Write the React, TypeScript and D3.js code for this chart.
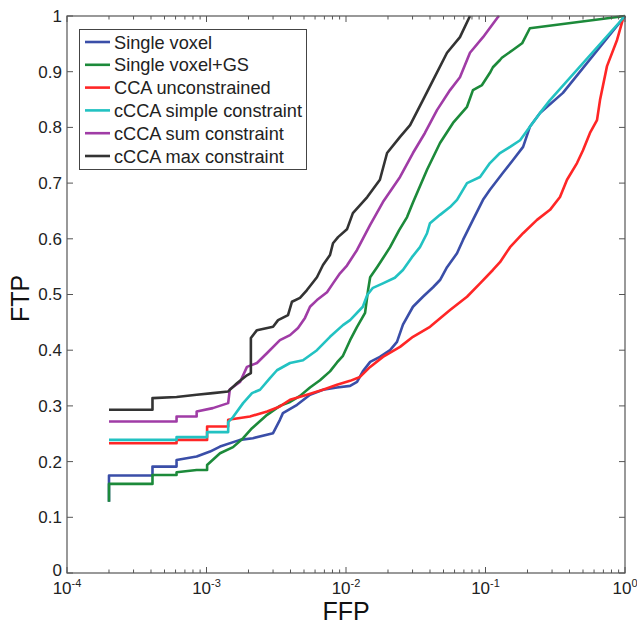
import React from "react";
import * as d3 from "d3";

type Pt = [number, number];

const seriesNames = [
  "Single voxel",
  "Single voxel+GS",
  "CCA unconstrained",
  "cCCA simple constraint",
  "cCCA sum constraint",
  "cCCA max constraint",
];
const seriesColors = ["#3a4ea8", "#1c8a3a", "#ff2626", "#22c2c2", "#a03ca6", "#333333"];

const singleVoxel: Pt[] = [
  [2e-4, 0.128], [2e-4, 0.175], [4.1e-4, 0.175], [4.1e-4, 0.191], [6.1e-4, 0.191], [6.1e-4, 0.203],
  [8.5e-4, 0.209], [1.06e-3, 0.218], [1.25e-3, 0.227], [1.74e-3, 0.239], [2.15e-3, 0.242],
  [3.0e-3, 0.251], [3.36e-3, 0.275], [3.53e-3, 0.287], [4.46e-3, 0.302], [5.52e-3, 0.32],
  [6.84e-3, 0.329], [8.62e-3, 0.333], [1.07e-2, 0.336], [1.2e-2, 0.343], [1.32e-2, 0.362],
  [1.49e-2, 0.379], [1.75e-2, 0.388], [2.07e-2, 0.4], [2.32e-2, 0.415], [2.56e-2, 0.446],
  [3.02e-2, 0.478], [3.56e-2, 0.496], [4.21e-2, 0.513], [4.72e-2, 0.526], [5.3e-2, 0.549],
  [6.25e-2, 0.574], [6.9e-2, 0.598], [8.13e-2, 0.634], [9.6e-2, 0.67], [0.1076, 0.688],
  [0.133, 0.718], [0.157, 0.741], [0.186, 0.765], [0.208, 0.801], [0.246, 0.826],
  [0.359, 0.862], [1, 1],
];

const singleVoxelGS: Pt[] = [
  [2e-4, 0.128], [2e-4, 0.16], [4.1e-4, 0.16], [4.1e-4, 0.176], [6.1e-4, 0.176], [6.1e-4, 0.181],
  [8.5e-4, 0.185], [1.01e-3, 0.185], [1.01e-3, 0.194], [1.25e-3, 0.215], [1.55e-3, 0.226],
  [1.83e-3, 0.242], [2.12e-3, 0.26], [2.72e-3, 0.284], [3.36e-3, 0.3], [3.97e-3, 0.307],
  [4.68e-3, 0.318], [5.52e-3, 0.333], [6.51e-3, 0.346], [7.68e-3, 0.362], [8.62e-3, 0.378],
  [9.51e-3, 0.39], [1.07e-2, 0.418], [1.2e-2, 0.442], [1.37e-2, 0.467], [1.44e-2, 0.508],
  [1.49e-2, 0.531], [1.67e-2, 0.549], [1.84e-2, 0.565], [2.07e-2, 0.585], [2.4e-2, 0.615],
  [2.74e-2, 0.639], [3.02e-2, 0.665], [3.81e-2, 0.724], [4.72e-2, 0.772], [5.85e-2, 0.808],
  [7.37e-2, 0.837], [8.13e-2, 0.867], [9.44e-2, 0.876], [0.1076, 0.898], [0.113, 0.908],
  [0.127, 0.921], [0.131, 0.925], [0.157, 0.939], [0.183, 0.951], [0.208, 0.978], [1, 1],
];

const ccaUnconstrained: Pt[] = [
  [2e-4, 0.233], [6.1e-4, 0.233], [6.1e-4, 0.239], [1.01e-3, 0.239], [1.01e-3, 0.263],
  [1.43e-3, 0.263], [1.43e-3, 0.275], [2.05e-3, 0.281], [2.72e-3, 0.29], [3.36e-3, 0.299],
  [3.97e-3, 0.311], [5.25e-3, 0.32], [6.84e-3, 0.329], [8.62e-3, 0.338], [1.07e-2, 0.345],
  [1.26e-2, 0.352], [1.49e-2, 0.37], [1.84e-2, 0.388], [2.44e-2, 0.406], [3.02e-2, 0.424],
  [4.0e-2, 0.442], [5.57e-2, 0.472], [7.37e-2, 0.496], [9.14e-2, 0.52], [0.113, 0.544],
  [0.127, 0.558], [0.15, 0.585], [0.186, 0.61], [0.234, 0.634], [0.29, 0.652], [0.342, 0.675],
  [0.384, 0.706], [0.453, 0.736], [0.5, 0.759], [0.561, 0.79], [0.63, 0.813], [0.662, 0.849],
  [0.743, 0.91], [0.877, 0.957], [0.968, 0.995], [1, 1],
];

const cccaSimple: Pt[] = [
  [2e-4, 0.239], [6.1e-4, 0.239], [6.1e-4, 0.244], [1.01e-3, 0.244], [1.01e-3, 0.253],
  [1.43e-3, 0.253], [1.43e-3, 0.271], [1.55e-3, 0.28], [1.83e-3, 0.305], [2.12e-3, 0.323],
  [2.42e-3, 0.329], [2.85e-3, 0.35], [3.2e-3, 0.364], [3.97e-3, 0.377], [4.92e-3, 0.382],
  [6.19e-3, 0.4], [7.68e-3, 0.424], [9.51e-3, 0.445], [1.07e-2, 0.454], [1.32e-2, 0.478],
  [1.42e-2, 0.499], [1.56e-2, 0.512], [1.84e-2, 0.52], [2.24e-2, 0.53], [2.56e-2, 0.544],
  [2.97e-2, 0.567], [3.39e-2, 0.585], [3.81e-2, 0.61], [4.0e-2, 0.628], [4.72e-2, 0.643],
  [5.57e-2, 0.657], [6.25e-2, 0.67], [7.37e-2, 0.7], [9.14e-2, 0.711], [0.1076, 0.736],
  [0.127, 0.754], [0.15, 0.765], [0.177, 0.777], [0.208, 0.801], [0.246, 0.826],
  [0.29, 0.849], [1, 1],
];

const cccaSum: Pt[] = [
  [2e-4, 0.272], [6.1e-4, 0.272], [6.1e-4, 0.281], [8.5e-4, 0.281], [8.5e-4, 0.29],
  [1.11e-3, 0.296], [1.43e-3, 0.305], [1.47e-3, 0.33], [1.74e-3, 0.343], [1.95e-3, 0.37],
  [2.3e-3, 0.377], [2.72e-3, 0.395], [3.36e-3, 0.418], [3.97e-3, 0.427], [4.53e-3, 0.44],
  [5.08e-3, 0.458], [5.52e-3, 0.478], [6.19e-3, 0.49], [7.31e-3, 0.504], [8.07e-3, 0.52],
  [9.06e-3, 0.538], [1.016e-2, 0.552], [1.2e-2, 0.58], [1.49e-2, 0.625], [1.84e-2, 0.666],
  [2.44e-2, 0.711], [3.02e-2, 0.754], [3.68e-2, 0.79], [4.49e-2, 0.831], [5.57e-2, 0.867],
  [6.56e-2, 0.89], [7.74e-2, 0.934], [9.6e-2, 0.962], [0.121, 0.996], [0.125, 1],
];

const cccaMax: Pt[] = [
  [2e-4, 0.293], [4.1e-4, 0.293], [4.1e-4, 0.314], [6.1e-4, 0.316], [8.5e-4, 0.32],
  [1.11e-3, 0.323], [1.43e-3, 0.326], [1.66e-3, 0.341], [1.95e-3, 0.355], [2.08e-3, 0.359],
  [2.08e-3, 0.422], [2.3e-3, 0.436], [3.0e-3, 0.442], [3.26e-3, 0.454], [3.84e-3, 0.463],
  [4.1e-3, 0.487], [4.68e-3, 0.494], [5.25e-3, 0.508], [6.19e-3, 0.531], [6.84e-3, 0.553],
  [7.68e-3, 0.571], [8.07e-3, 0.592], [8.77e-3, 0.603], [1.016e-2, 0.617], [1.12e-2, 0.646],
  [1.42e-2, 0.675], [1.75e-2, 0.706], [1.97e-2, 0.754], [2.44e-2, 0.783], [2.88e-2, 0.804],
  [3.56e-2, 0.849], [4.21e-2, 0.885], [5.3e-2, 0.934], [6.56e-2, 0.962], [7.74e-2, 1],
];

const seriesData: Pt[][] = [singleVoxel, singleVoxelGS, ccaUnconstrained, cccaSimple, cccaSum, cccaMax];

const yTicks = [0, 0.1, 0.2, 0.3, 0.4, 0.5, 0.6, 0.7, 0.8, 0.9, 1];
const yTickLabels = ["0", "0.1", "0.2", "0.3", "0.4", "0.5", "0.6", "0.7", "0.8", "0.9", "1"];
const xDecades = [-4, -3, -2, -1, 0];
const xLabel = "FFP";
const yLabel = "FTP";

export default function App() {
  const W = 637, H = 626;
  const left = 67, right = 625, top = 16, bottom = 573;
  const x = d3.scaleLog().domain([1e-4, 1]).range([left, right]);
  const y = d3.scaleLinear().domain([0, 1]).range([bottom, top]);
  const line = d3.line<Pt>().x((d) => x(d[0])).y((d) => y(d[1])).curve(d3.curveLinear);

  const minor: number[] = [];
  for (let e = -4; e < 0; e++) for (let m = 2; m <= 9; m++) minor.push(m * Math.pow(10, e));

  const axisColor = "#555";
  const font = "'Liberation Sans', Arial, sans-serif";
  const majLen = 6, minLen = 3.5;

  return (
    <svg width={W} height={H} style={{ position: "absolute", left: 0, top: 0, background: "#fff" }} fontFamily={font}>
      <rect x={0} y={0} width={W} height={H} fill="#fff" />
      {seriesData.map((d, i) => (
        <path key={i} d={line(d) || ""} fill="none" stroke={seriesColors[i]} strokeWidth={2.6} strokeLinejoin="round" />
      ))}
      <rect x={left} y={top} width={right - left} height={bottom - top} fill="none" stroke={axisColor} strokeWidth={1.2} />
      {yTicks.map((t, i) => (
        <g key={"y" + i}>
          <line x1={left} x2={left + majLen} y1={y(t)} y2={y(t)} stroke={axisColor} strokeWidth={1} />
          <line x1={right} x2={right - majLen} y1={y(t)} y2={y(t)} stroke={axisColor} strokeWidth={1} />
          <text x={left - 5} y={y(t) - (t === 0 ? 3 : 0)} dy="0.35em" textAnchor="end" fontSize={17} fill="#222">{yTickLabels[i]}</text>
        </g>
      ))}
      {xDecades.map((e) => (
        <g key={"x" + e}>
          <line x1={x(Math.pow(10, e))} x2={x(Math.pow(10, e))} y1={bottom} y2={bottom - majLen} stroke={axisColor} strokeWidth={1} />
          <line x1={x(Math.pow(10, e))} x2={x(Math.pow(10, e))} y1={top} y2={top + majLen} stroke={axisColor} strokeWidth={1} />
          <text x={x(Math.pow(10, e))} y={594} textAnchor="middle" fontSize={17} fill="#222">
            10<tspan dy={-7} fontSize={11}>{String(e)}</tspan>
          </text>
        </g>
      ))}
      {minor.map((v, i) => (
        <g key={"m" + i}>
          <line x1={x(v)} x2={x(v)} y1={bottom} y2={bottom - minLen} stroke={axisColor} strokeWidth={1} />
          <line x1={x(v)} x2={x(v)} y1={top} y2={top + minLen} stroke={axisColor} strokeWidth={1} />
        </g>
      ))}
      <text x={(left + right) / 2} y={620} textAnchor="middle" fontSize={25} fill="#111">{xLabel}</text>
      <text transform={`translate(29, ${(top + bottom) / 2 + 4}) rotate(-90)`} textAnchor="middle" fontSize={25} fill="#111">{yLabel}</text>
      <rect x={79.5} y={29.5} width={227} height={140} fill="#fff" stroke="#444" strokeWidth={1} />
      {seriesNames.map((n, i) => {
        const cy = 42 + i * 22.8;
        return (
          <g key={"l" + i}>
            <line x1={85} x2={110} y1={cy} y2={cy} stroke={seriesColors[i]} strokeWidth={2.6} />
            <text x={114} y={cy} dy="0.36em" fontSize={18.2} fill="#222">{n}</text>
          </g>
        );
      })}
    </svg>
  );
}
